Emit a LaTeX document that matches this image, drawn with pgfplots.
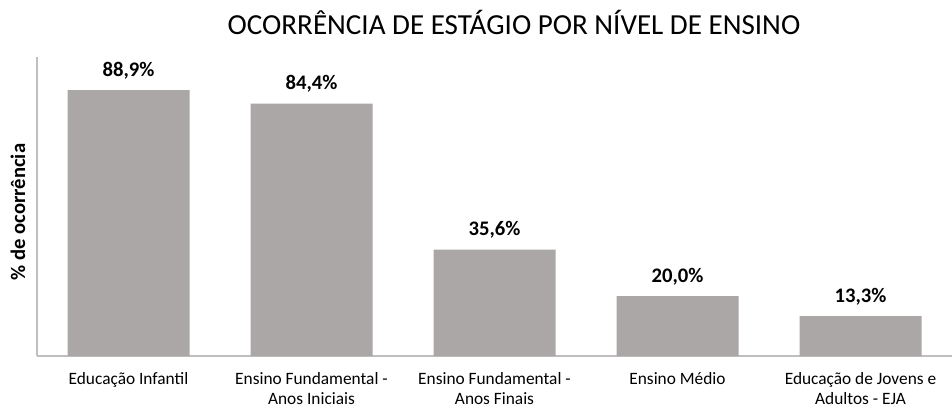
\documentclass[border=0pt]{standalone}
\usepackage{pgfplots}
\pgfplotsset{compat=1.18}
\usepackage{fontspec}
\setmainfont{Carlito}
\definecolor{barc}{HTML}{ABA7A6}
\definecolor{axc}{HTML}{BFBFBF}
\begin{document}
\begin{tikzpicture}
\useasboundingbox (-27.75pt,-39pt) rectangle (686.25pt,267pt);
\begin{axis}[
  scale only axis,
  width=686.25pt, height=224.25pt,
  xmin=-0.5, xmax=4.5, ymin=0, ymax=100,
  axis x line*=bottom, axis y line*=left,
  axis line style={draw=axc, line width=0.8pt, -},
  xtick={0,1,2,3,4},
  xticklabels={Educação Infantil, {Ensino Fundamental -\\Anos Iniciais}, {Ensino Fundamental -\\Anos Finais}, Ensino Médio, {Educação de Jovens e\\Adultos - EJA}},
  xticklabel style={font=\fontsize{13pt}{15pt}\selectfont, align=center, yshift=-9pt, text depth=0pt},
  ytick=\empty,
  major tick length=0pt,
  ybar, bar width=91.5pt,
  nodes near coords,
  point meta=explicit symbolic,
  every node near coord/.append style={font=\bfseries\fontsize{15.5pt}{18pt}\selectfont, yshift=5pt, text=black},
  clip=false,
]
\addplot[fill=barc, draw=none] table[meta=label] {
x y label
0 88.9 88,9\%
1 84.4 84,4\%
2 35.6 35,6\%
3 20.0 20,0\%
4 13.3 13,3\%
};
\end{axis}
\node[font=\fontsize{21.8pt}{26pt}\selectfont] at (357.75pt,250.5pt) {OCORRÊNCIA DE ESTÁGIO POR NÍVEL DE ENSINO};
\node[font=\bfseries\fontsize{15.5pt}{18pt}\selectfont, rotate=90] at (-14.25pt,108pt) {\% de ocorrência};
\end{tikzpicture}
\end{document}
